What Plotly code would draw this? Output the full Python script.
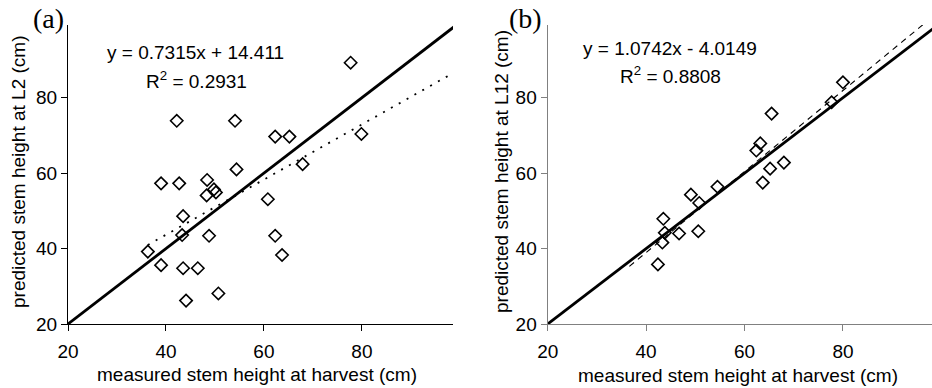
import plotly.graph_objects as go

W, H = 932, 388

# ---- data ----
left_measured = [77.7, 42.2, 54.1, 62.3, 65.2, 79.9, 67.9, 54.4, 39.0, 42.7, 48.4, 49.8, 50.2,
                 48.3, 60.8, 43.5, 43.3, 48.8, 62.3, 36.3, 63.7, 39.0, 43.5, 46.5, 50.7, 44.1]
left_predicted = [89.3, 73.9, 73.9, 69.7, 69.7, 70.4, 62.4, 61.0, 57.3, 57.3, 58.2, 55.7, 54.9,
                  54.1, 53.1, 48.6, 43.6, 43.4, 43.4, 39.2, 38.3, 35.6, 34.8, 34.8, 28.1, 26.2]
right_measured = [80.0, 77.7, 65.5, 63.2, 62.4, 68.0, 65.2, 63.7, 54.5, 49.1, 50.8, 43.5, 43.8,
                  46.7, 50.6, 43.3, 42.4]
right_predicted = [84.1, 78.8, 75.8, 67.9, 66.0, 62.8, 61.2, 57.5, 56.4, 54.3, 52.1, 47.9, 44.2,
                   44.0, 44.6, 41.6, 35.8]

left_fit = (0.7315, 14.411)
right_fit = (1.0742, -4.0149)
left_fit_x = [36.3, 99.0]
right_fit_x = [36.6, 98.0]
one_to_one = [20, 100]
tick_vals = [20, 40, 60, 80]

FONT = "Arial, Liberation Sans, sans-serif"
SERIF = "Times New Roman, Liberation Serif, serif"

def px(x):
    return x / W

def py(y):
    return 1 - y / H

fig = go.Figure()

# Left panel
fig.add_trace(go.Scatter(x=one_to_one, y=one_to_one, mode="lines",
                         line=dict(color="black", width=2.8), xaxis="x", yaxis="y", showlegend=False))
fig.add_trace(go.Scatter(x=left_fit_x, y=[left_fit[0] * v + left_fit[1] for v in left_fit_x],
                         mode="lines", line=dict(color="black", width=1.8, dash="2px,7px"),
                         xaxis="x", yaxis="y", showlegend=False))
fig.add_trace(go.Scatter(x=left_measured, y=left_predicted, mode="markers",
                         marker=dict(symbol="diamond-open", size=9.5, color="black",
                                     line=dict(width=1.6, color="black")),
                         xaxis="x", yaxis="y", showlegend=False, cliponaxis=False))

# Right panel
fig.add_trace(go.Scatter(x=one_to_one, y=one_to_one, mode="lines",
                         line=dict(color="black", width=2.8), xaxis="x2", yaxis="y2", showlegend=False))
fig.add_trace(go.Scatter(x=right_fit_x, y=[right_fit[0] * v + right_fit[1] for v in right_fit_x],
                         mode="lines", line=dict(color="black", width=1.1, dash="6px,5px"),
                         xaxis="x2", yaxis="y2", showlegend=False))
fig.add_trace(go.Scatter(x=right_measured, y=right_predicted, mode="markers",
                         marker=dict(symbol="diamond-open", size=9.5, color="black",
                                     line=dict(width=1.6, color="black")),
                         xaxis="x2", yaxis="y2", showlegend=False, cliponaxis=False))

ydom = [py(324), py(25)]

def axis_style(color, dom, rng, anchor, standoff=0):
    return dict(domain=dom, range=rng, anchor=anchor, showgrid=False, zeroline=False,
                showline=True, linecolor=color, linewidth=1.3, ticks="outside", ticklen=6,
                tickcolor=color, tickwidth=1.3, tickvals=tick_vals, automargin=False,
                ticklabelstandoff=standoff,
                tickfont=dict(family=FONT, size=19, color="black"))

fig.update_layout(
    width=W, height=H,
    margin=dict(l=0, r=0, t=0, b=0, autoexpand=False),
    plot_bgcolor="white", paper_bgcolor="white",
    xaxis=axis_style("black", [px(68), px(453)], [20, 98.6], "y", 4),
    yaxis=axis_style("black", ydom, [20, 99.3], "x"),
    xaxis2=axis_style("#808080", [px(547.7), 1.0], [20, 98.1], "y2", 4),
    yaxis2=axis_style("#808080", ydom, [20, 99.3], "x2"),
)

ann = []
def add(text, x, y, size=19, family=FONT, angle=0):
    ann.append(dict(text=text, x=px(x), y=py(y), xref="paper", yref="paper",
                    xanchor="center", yanchor="middle", showarrow=False, textangle=angle,
                    font=dict(family=family, size=size, color="black")))

add("(a)", 48, 18, size=28, family=SERIF)
add("(b)", 525, 18, size=28, family=SERIF)
add("y = 0.7315x + 14.411", 195, 53)
add("R<sup>2</sup> = 0.2931", 196, 80)
add("y = 1.0742x - 4.0149", 670, 48)
add("R<sup>2</sup> = 0.8808", 670, 75)
add("measured stem height at harvest (cm)", 257, 374)
add("measured stem height at harvest (cm)", 738, 375)
add("predicted stem height at L2 (cm)", 18, 172, angle=-90)
add("predicted stem height at L12 (cm)", 501, 172, angle=-90)
fig.update_layout(annotations=ann)

fig.write_html("out.html", config={"displayModeBar": False},
               post_script="document.body.style.margin='0px';document.body.style.overflow='hidden';")
